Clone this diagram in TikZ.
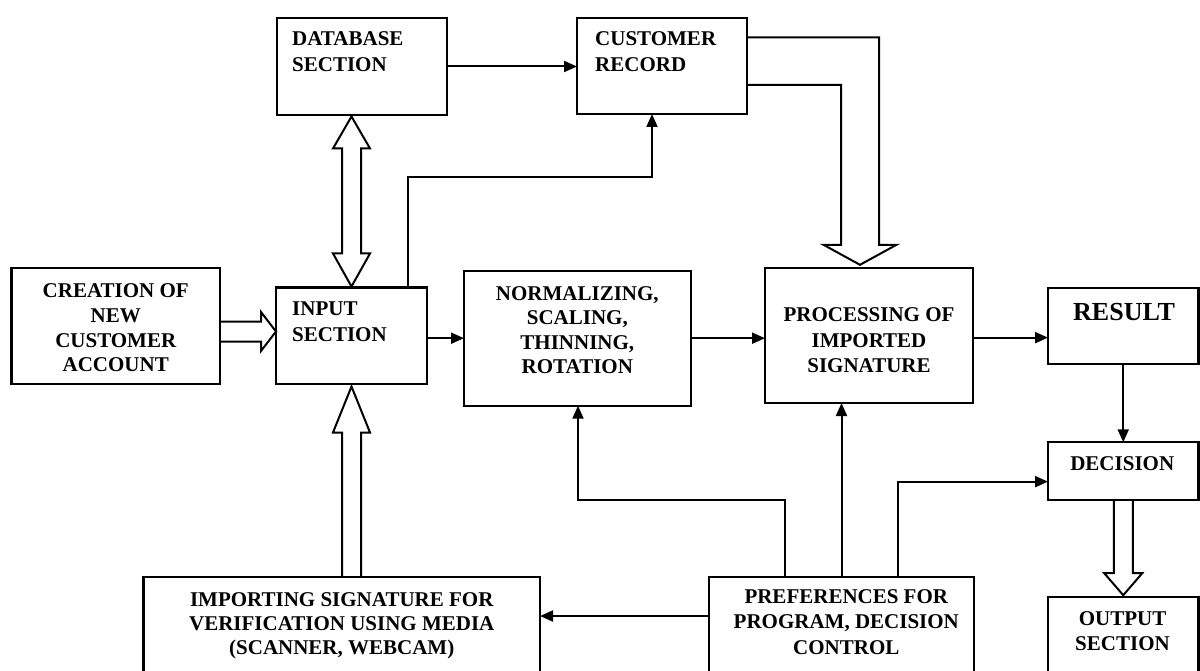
\documentclass[tikz,border=0pt]{standalone}
\usepackage{fontspec}
\setmainfont{Liberation Serif}
\usetikzlibrary{calc,arrows.meta}
\begin{document}
\begin{tikzpicture}[x=1pt,y=-1pt,
  box/.style={draw, line width=2.2pt, inner sep=0pt, outer sep=0pt, anchor=north west},
  ctext/.style={font=\bfseries\fontsize{21}{24.6}\selectfont, inner sep=0pt, align=center, anchor=north},
  ltext/.style={font=\bfseries\fontsize{21}{26}\selectfont, inner sep=0pt, align=left, anchor=north west},
  arr/.style={line width=2pt, -{Triangle[length=13pt,width=11pt]}},
  hollow/.style={line width=2pt, line join=miter},
]
\fill[white] (0,0) rectangle (1200,671);
\useasboundingbox (0,0) rectangle (1200,671);
\clip (0,0) rectangle (1200,671);

% blocks
\node[box, minimum width=170pt, minimum height=97pt]   (db)   at (277,18) {};
\node[box, minimum width=170pt, minimum height=96pt]   (cr)   at (577,18) {};
\node[box, minimum width=208.5pt, minimum height=116pt] (cre) at (11.5,268) {};
\node[box, minimum width=151pt, minimum height=96.5pt] (inp)  at (276,287.5) {};
\node[box, minimum width=226.7pt, minimum height=135pt] (norm) at (464,270.7) {};
\node[box, minimum width=208pt, minimum height=134.7pt] (proc) at (765,268.3) {};
\node[box, minimum width=150.5pt, minimum height=76.3pt] (res) at (1048,288) {};
\node[box, minimum width=150.5pt, minimum height=57.7pt] (dec) at (1048,442.3) {};
\node[box, minimum width=150.5pt, minimum height=120pt] (out) at (1048,596.7) {};
\node[box, minimum width=396.5pt, minimum height=120pt] (imp) at (143.5,577.3) {};
\node[box, minimum width=265pt, minimum height=120pt]   (pref) at (709,576.7) {};

% labels
\node[ltext] (dbT)  at ($(db.north west)+(15,13)$)   {DATABASE\\SECTION};
\node[ltext] (crT)  at ($(cr.north west)+(18,13)$)   {CUSTOMER\\RECORD};
\node[ltext] (inpT) at ($(inp.north west)+(16,14.5)$) {INPUT\\SECTION};
\node[ctext] (creT) at ($(cre.north)+(0,15.7)$)  {CREATION OF\\NEW\\CUSTOMER\\ACCOUNT};
\node[ctext] (normT) at ($(norm.north)+(0,15.3)$) {NORMALIZING,\\SCALING,\\THINNING,\\ROTATION};
\node[ctext, font=\bfseries\fontsize{21}{25.3}\selectfont] (procT) at ($(proc.north)+(0,39.4)$) {PROCESSING OF\\IMPORTED\\SIGNATURE};
\node[ctext, font=\bfseries\fontsize{26}{30}\selectfont] (resT) at ($(res.north)+(0.75,15.5)$) {RESULT};
\node[ctext] (decT) at ($(dec.north)+(-1,14.4)$) {DECISION};
\node[ctext, font=\bfseries\fontsize{21}{24}\selectfont] (impT) at ($(imp.north)+(0,14.7)$) {IMPORTING SIGNATURE FOR\\VERIFICATION USING MEDIA\\(SCANNER, WEBCAM)};
\node[ctext, font=\bfseries\fontsize{21}{25.3}\selectfont] (prefT) at ($(pref.north)+(4.8,12.6)$) {PREFERENCES FOR\\PROGRAM, DECISION\\CONTROL};
\node[ctext, font=\bfseries\fontsize{21}{25}\selectfont] (outT) at ($(out.north)+(-0.75,14.3)$) {OUTPUT\\SECTION};

% plain arrows
\draw[arr] (db.east) -- (db.east -| cr.west);
\coordinate (k1) at ($(cr.south west)+(75,63)$);
\draw[arr] ($(inp.north east)+(-19,0)$) |- (k1) -- (k1 |- cr.south);
\draw[arr] (norm.west -| inp.east) -- (norm.west);
\draw[arr] (norm.east) -- (norm.east -| proc.west);
\coordinate (pe) at ($(proc.east)+(0,2)$);
\draw[arr] (pe) -- (pe -| res.west);
\draw[arr] (res.south) -- (res.south |- dec.north);
\coordinate (p1) at ($(pref.north west)+(76,0)$);
\coordinate (n1) at ($(norm.south west)+(114,0)$);
\draw[arr] (p1) |- ($(n1)+(0,94.3)$) -- (n1);
\draw[arr] (pref.north) -- (pref.north |- proc.south);
\coordinate (p3) at ($(pref.north west)+(188.5,0)$);
\draw[arr] (p3) |- ($(dec.west)+(0,10.5)$);
\coordinate (p4) at ($(pref.north west)+(0,39.3)$);
\draw[arr] (p4) -- (p4 -| imp.east);

% hollow arrows
% database <-> input
\coordinate (dbt) at ($(inp.north |- db.south)+(0,1.5)$);
\coordinate (inpt) at ($(inp.north)+(0,-1)$);
\draw[hollow] (dbt) -- ++(-18.5,32) -- ++(9,0) -- ++(0,105) -- ++(-9,0) -- (inpt)
  -- ++(18.5,-33) -- ++(-9,0) -- ++(0,-105) -- ++(9,0) -- cycle;
% importing -> input
\coordinate (imt) at ($(inp.south)+(0,2.5)$);
\draw[hollow] ($(inp.south |- imp.north)+(-9.5,0)$) -- ($(imt)+(-9.5,46)$) -- ++(-9,0) -- (imt)
  -- ++(18.5,46) -- ++(-9,0) -- ($(inp.south |- imp.north)+(9.5,0)$);
% creation -> input
\coordinate (ht) at (inp.west |- 0,331.5);
\draw[hollow] ($(ht -| cre.east)+(0,-10)$) -- ++(41,0) -- ++(0,-9.5) -- (ht)
  -- ++(-15,19.5) -- ++(0,-9.5) -- ($(ht -| cre.east)+(0,10)$);
% customer record -> processing
\coordinate (bt) at ($(proc.north)+(-9,-3.5)$);
\draw[hollow] ($(cr.north east)+(0,19.5)$) -| ($(bt)+(19,-20)$) -- ++(17.5,0) -- (bt)
  -- ++(-36.5,-20) -- ++(17.5,0) |- ($(cr.north east)+(0,67)$);
% decision -> output
\coordinate (ot) at ($(out.north)+(0,-1.5)$);
\draw[hollow] ($(dec.south)+(-9.5,0)$) -- ($(ot)+(-9.5,-22)$) -- ++(-9.5,0) -- (ot)
  -- ++(19,-22) -- ++(-9.5,0) -- ($(dec.south)+(9.5,0)$);
\end{tikzpicture}
\end{document}
